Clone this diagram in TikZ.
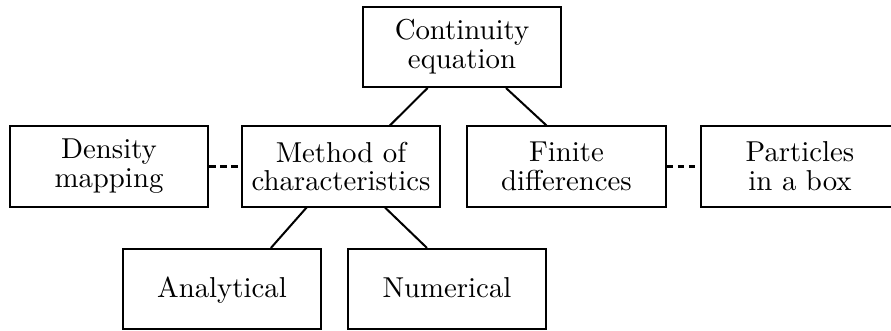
\documentclass[tikz,border=0pt]{standalone}
\usepackage{xcolor}
\usepackage{tikz}
\usetikzlibrary{positioning}

\begin{document}
\begin{tikzpicture}[x=0.3472pt,y=-0.3472pt,line width=0.7pt,
  topic/.style={draw,rectangle,align=center,minimum width=69pt,minimum height=27.8pt,inner sep=2pt,
    font=\fontsize{10pt}{10pt}\selectfont},
  single/.style={text height=7pt,text depth=0.8pt},
  link/.style={dash pattern=on 2.2pt off 1.6pt}]
  \useasboundingbox (0,0) rectangle (891,331);
  \node[topic] (cont) at (462,47) {Continuity\\equation};
  \node[topic] (dens) at (109,166.5) {Density\\mapping};
  \node[topic] (meth) at (341,166.5) {Method of\\characteristics};
  \node[topic] (fin) at (566.5,166.5) {Finite\\differences};
  \node[topic] (part) at (800,166.5) {Particles\\in a box};
  \node[topic,single] (anal) at (222,289) {Analytical};
  \node[topic,single] (num) at (447,289) {Numerical};
  \draw (cont.230) -- (meth.40);
  \draw (cont.317) -- (fin.116);
  \draw (meth.230) -- (anal.40);
  \draw (meth.317) -- (num.116);
  \draw[link] (dens.east) -- (meth.west);
  \draw[link] (fin.east) -- (part.west);
\end{tikzpicture}
\end{document}
